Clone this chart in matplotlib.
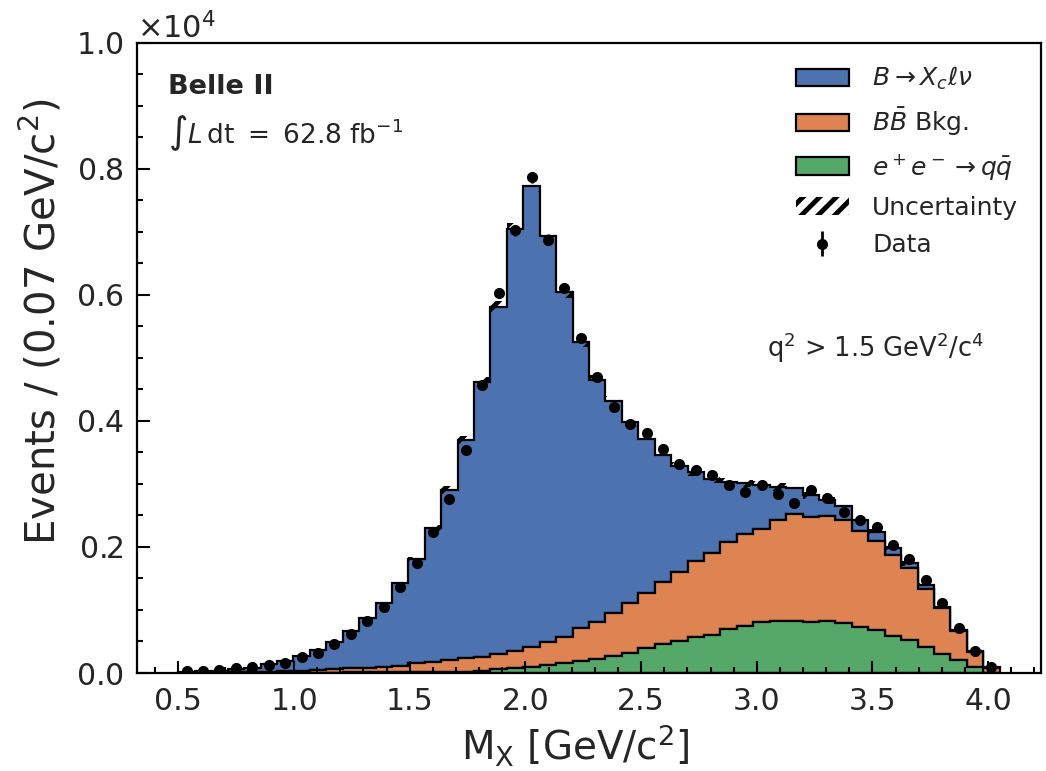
"""
Stacked M_X histogram (Belle II style) with MC uncertainty band and data points.
"""

import matplotlib
matplotlib.use("Agg")
import matplotlib.pyplot as plt
import numpy as np
from matplotlib.patches import Patch
from matplotlib.ticker import AutoMinorLocator

# binning: 50 bins of ~0.07 GeV starting at 0.5
BIN_LO, BIN_HI, N_BINS = 0.5, 4.05, 50

# per-bin event counts
signal_xclnu = [
    20, 23, 30, 48, 69, 121, 165, 237, 317, 436,
    594, 781, 1014, 1306, 1649, 2124, 2695, 3460, 4358, 5510,
    6683, 7307, 6430, 5468, 4533, 3831, 3360, 2871, 2447, 2008,
    1680, 1416, 1163, 951, 804, 698, 528, 412, 344, 254,
    222, 174, 143, 106, 80, 68, 26, 20, 11, 6,
]
bb_bkg = [
    0, 2, 4, 8, 12, 18, 25, 32, 41, 52,
    63, 76, 89, 104, 139, 163, 188, 212, 222, 238,
    270, 317, 369, 423, 528, 591, 687, 792, 882, 992,
    1094, 1209, 1305, 1384, 1458, 1469, 1596, 1691, 1664, 1664,
    1628, 1522, 1415, 1284, 1136, 920, 729, 464, 248, 84,
]
qq_bkg = [
    0, 0, 1, 2, 3, 4, 5, 6, 7, 8,
    9, 10, 11, 12, 14, 16, 18, 21, 37, 58,
    84, 100, 127, 153, 190, 222, 269, 312, 391, 455,
    512, 566, 602, 697, 745, 813, 829, 824, 813, 824,
    797, 734, 682, 586, 523, 407, 296, 206, 90, 0,
]
mc_unc = [
    1, 1, 1, 2, 2, 3, 4, 6, 7, 10,
    13, 17, 22, 28, 36, 46, 58, 70, 80, 90,
    95, 100, 95, 90, 85, 80, 78, 75, 72, 69,
    66, 64, 61, 61, 60, 60, 59, 59, 56, 55,
    53, 49, 45, 40, 35, 28, 21, 14, 7, 2,
]
data_counts = [
    36, 36, 48, 84, 100, 127, 163, 249, 312, 455,
    613, 824, 1051, 1358, 1739, 2240, 2753, 3535, 4565, 6028,
    7021, 7867, 6874, 6107, 5315, 4697, 4221, 3950, 3809, 3546,
    3308, 3218, 3138, 2980, 2874, 2980, 2837, 2700, 2900, 2769,
    2557, 2425, 2309, 2029, 1802, 1474, 1114, 708, 353, 100,
]

# seaborn "deep" palette, dark-gray text like the seaborn ticks style
COLORS = {"signal": "#4C72B0", "bb": "#DD8452", "qq": "#55A868"}
TEXT_COLOR = "#262626"

plt.rcParams["hatch.linewidth"] = 3.5
plt.rcParams["text.color"] = TEXT_COLOR
plt.rcParams["axes.labelcolor"] = TEXT_COLOR
plt.rcParams["xtick.labelcolor"] = TEXT_COLOR
plt.rcParams["ytick.labelcolor"] = TEXT_COLOR


def main():
    edges = np.linspace(BIN_LO, BIN_HI, N_BINS + 1)
    centers = 0.5 * (edges[:-1] + edges[1:])
    widths = np.diff(edges)

    fig = plt.figure(figsize=(10.46, 7.71), dpi=100)
    ax = fig.add_axes([0.1313, 0.1271, 0.8637, 0.8176])

    # stacked MC: qq at the bottom, then BB bkg, then signal on top
    _, _, patches = ax.hist(
        [centers, centers, centers], bins=edges,
        weights=[qq_bkg, bb_bkg, signal_xclnu], stacked=True,
        histtype="stepfilled",
        color=[COLORS["qq"], COLORS["bb"], COLORS["signal"]],
        edgecolor="black", linewidth=1.6)

    total = np.array(qq_bkg) + np.array(bb_bkg) + np.array(signal_xclnu)
    unc = np.array(mc_unc)
    ax.bar(centers, 2 * unc, bottom=total - unc, width=widths, align="center",
           facecolor="none", edgecolor="black", hatch="/", linewidth=0, zorder=3)

    data = np.array(data_counts)
    data_err = ax.errorbar(centers, data, yerr=np.sqrt(data), fmt="o", color="black",
                           ms=7, elinewidth=2, capsize=0, zorder=4)

    ax.set_xlim(0.3225, 4.2275)
    ax.set_ylim(0, 10000)
    ax.ticklabel_format(axis="y", style="sci", scilimits=(0, 0), useMathText=True)
    ax.yaxis.get_offset_text().set_fontsize(22)
    ax.yaxis.get_offset_text().set_color(TEXT_COLOR)
    ax.xaxis.set_minor_locator(AutoMinorLocator())
    ax.yaxis.set_minor_locator(AutoMinorLocator())
    ax.tick_params(which="both", direction="in", top=False, right=False,
                   labelsize=21.5, pad=10, width=1.5)
    ax.tick_params(which="major", length=9)
    ax.tick_params(which="minor", length=4.5)
    for spine in ax.spines.values():
        spine.set_linewidth(1.6)

    ax.set_xlabel(r"M$_{\rm X}$ [GeV/c$^2$]", fontsize=28)
    ax.set_ylabel(r"Events / (0.07 GeV/c$^2$)", fontsize=29)
    ax.xaxis.set_label_coords(0.4845, -0.077)
    ax.yaxis.set_label_coords(-0.081, 0.557)

    ax.text(0.034, 0.93, "Belle II", fontsize=19.5, weight="bold",
            transform=ax.transAxes, va="center")
    ax.text(0.034, 0.857, r"$\int L\,\mathrm{dt}\ =\ 62.8\ \mathrm{fb}^{-1}$",
            fontsize=19, transform=ax.transAxes, va="center")
    ax.text(0.938, 0.516, r"q$^2$ > 1.5 GeV$^2$/c$^4$", fontsize=18.5,
            transform=ax.transAxes, ha="right", va="center")

    unc_handle = Patch(facecolor="none", edgecolor="black", hatch="//", linewidth=0)
    handles = [patches[2][0], patches[1][0], patches[0][0], unc_handle, data_err]
    labels = [r"$B \rightarrow X_c \ell \nu$", r"$B\bar{B}$ Bkg.",
              r"$e^+e^- \rightarrow q\bar{q}$", "Uncertainty", "Data"]
    ax.legend(handles, labels, loc="upper right", frameon=False, fontsize=18,
              handlelength=2.1, handletextpad=0.95, labelspacing=0.55)

    fig.savefig("out.png", dpi=100, facecolor="white")
    plt.close(fig)


if __name__ == "__main__":
    main()
